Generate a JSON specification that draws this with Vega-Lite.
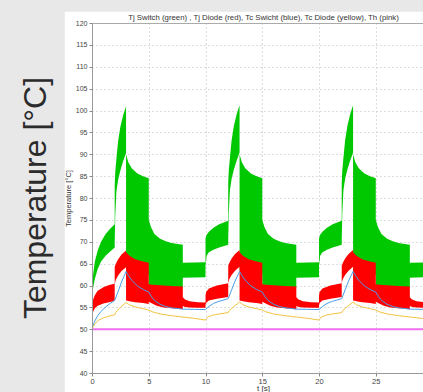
{
  "$schema": "https://vega.github.io/schema/vega-lite/v6.json",
  "width": 331,
  "height": 350,
  "autosize": {"type": "none"},
  "padding": {"left": 92, "top": 23, "right": 0, "bottom": 19},
  "background": "#e8e8e8",
  "config": {
    "view": {"fill": "white", "stroke": null},
    "font": "Liberation Sans"
  },
  "title": {
    "text": "Temperature [°C]",
    "orient": "left",
    "anchor": "middle",
    "fontSize": 32,
    "fontWeight": "normal",
    "color": "#2b2b2b",
    "offset": 11
  },
  "resolve": {"axis": {"x": "independent", "y": "independent"}},
  "datasets": {
    "blank": [{}],
    "green": [
      {"t":0,"lo":57,"hi":57.5},{"t":0.05,"lo":58.5,"hi":60.5},{"t":0.1,"lo":59.5,"hi":62.5},{"t":0.25,"lo":61.5,"hi":65.5},{"t":0.5,"lo":63.8,"hi":68},{"t":0.8,"lo":65.5,"hi":70},{"t":1.2,"lo":66.8,"hi":71.8},{"t":1.6,"lo":67.8,"hi":73},{"t":2.0,"lo":68.7,"hi":74},
      {"t":2.001,"lo":70,"hi":83},{"t":2.05,"lo":76,"hi":86},{"t":2.15,"lo":81.5,"hi":89},{"t":2.3,"lo":84.2,"hi":93},{"t":2.5,"lo":86.3,"hi":96.3},{"t":2.75,"lo":88.5,"hi":99},{"t":3.0,"lo":90.3,"hi":101},
      {"t":3.001,"lo":63.5,"hi":90},{"t":3.2,"lo":63.2,"hi":88.2},{"t":3.5,"lo":63,"hi":86.8},{"t":4.0,"lo":62.8,"hi":85.6},{"t":4.5,"lo":62.6,"hi":85},{"t":5.0,"lo":62.5,"hi":84.5},
      {"t":5.001,"lo":59.5,"hi":75},{"t":5.2,"lo":59.5,"hi":73.3},{"t":5.5,"lo":59.5,"hi":71.8},{"t":6.0,"lo":59.5,"hi":70.7},{"t":6.5,"lo":59.5,"hi":70.1},{"t":7.0,"lo":59.5,"hi":69.7},{"t":8.0,"lo":59.5,"hi":69.3},
      {"t":8.001,"lo":61.8,"hi":65.2},{"t":10.0,"lo":61.9,"hi":65.3},
      {"t":10.001,"lo":64.7,"hi":70.8},{"t":10.1,"lo":66.8,"hi":71.6},{"t":10.3,"lo":67.6,"hi":72.3},{"t":10.7,"lo":68.2,"hi":73.2},{"t":11.2,"lo":68.7,"hi":74},{"t":12.0,"lo":69.3,"hi":74.8},
      {"t":12.001,"lo":70.5,"hi":83.5},{"t":12.05,"lo":76.5,"hi":86.3},{"t":12.15,"lo":81.8,"hi":89.2},{"t":12.3,"lo":84.4,"hi":93.2},{"t":12.5,"lo":86.5,"hi":96.5},{"t":12.75,"lo":88.6,"hi":99.2},{"t":13.0,"lo":90.4,"hi":101.2},
      {"t":13.001,"lo":63.5,"hi":90},{"t":13.2,"lo":63.2,"hi":88.2},{"t":13.5,"lo":63,"hi":86.8},{"t":14.0,"lo":62.8,"hi":85.6},{"t":14.5,"lo":62.6,"hi":85},{"t":15.0,"lo":62.5,"hi":84.5},
      {"t":15.001,"lo":59.5,"hi":75},{"t":15.2,"lo":59.5,"hi":73.3},{"t":15.5,"lo":59.5,"hi":71.8},{"t":16.0,"lo":59.5,"hi":70.7},{"t":16.5,"lo":59.5,"hi":70.1},{"t":17.0,"lo":59.5,"hi":69.7},{"t":18.0,"lo":59.5,"hi":69.3},
      {"t":18.001,"lo":61.8,"hi":65.2},{"t":20.0,"lo":61.9,"hi":65.3},
      {"t":20.001,"lo":64.7,"hi":70.8},{"t":20.1,"lo":66.8,"hi":71.6},{"t":20.3,"lo":67.6,"hi":72.3},{"t":20.7,"lo":68.2,"hi":73.2},{"t":21.2,"lo":68.7,"hi":74},{"t":22.0,"lo":69.3,"hi":74.8},
      {"t":22.001,"lo":70.5,"hi":83.5},{"t":22.05,"lo":76.5,"hi":86.3},{"t":22.15,"lo":81.8,"hi":89.2},{"t":22.3,"lo":84.4,"hi":93.2},{"t":22.5,"lo":86.5,"hi":96.5},{"t":22.75,"lo":88.6,"hi":99.2},{"t":23.0,"lo":90.4,"hi":101.2},
      {"t":23.001,"lo":63.5,"hi":90},{"t":23.2,"lo":63.2,"hi":88.2},{"t":23.5,"lo":63,"hi":86.8},{"t":24.0,"lo":62.8,"hi":85.6},{"t":24.5,"lo":62.6,"hi":85},{"t":25.0,"lo":62.5,"hi":84.5},
      {"t":25.001,"lo":59.5,"hi":75},{"t":25.2,"lo":59.5,"hi":73.3},{"t":25.5,"lo":59.5,"hi":71.8},{"t":26.0,"lo":59.5,"hi":70.7},{"t":26.5,"lo":59.5,"hi":70.1},{"t":27.0,"lo":59.5,"hi":69.7},{"t":28.0,"lo":59.5,"hi":69.3},
      {"t":28.001,"lo":61.8,"hi":65.2},{"t":30.0,"lo":61.9,"hi":65.3}
    ],
    "red": [
      {"t":0,"lo":51.5,"hi":52.5},{"t":0.05,"lo":53,"hi":55.5},{"t":0.1,"lo":54,"hi":56.8},{"t":0.25,"lo":54.8,"hi":57.8},{"t":0.5,"lo":55.4,"hi":58.8},{"t":1.0,"lo":55.9,"hi":59.6},{"t":1.5,"lo":56.2,"hi":60.1},{"t":2.0,"lo":56.5,"hi":60.4},
      {"t":2.001,"lo":60.3,"hi":64.3},{"t":2.1,"lo":61.3,"hi":65},{"t":2.3,"lo":62.3,"hi":66},{"t":2.6,"lo":63.3,"hi":67.1},{"t":3.0,"lo":64.2,"hi":68},
      {"t":3.001,"lo":56.6,"hi":67.6},{"t":3.3,"lo":56.4,"hi":66.8},{"t":3.8,"lo":56.2,"hi":66},{"t":4.5,"lo":56,"hi":65.5},{"t":5.0,"lo":55.8,"hi":65.2},
      {"t":5.001,"lo":56.3,"hi":60.3},{"t":5.3,"lo":55.9,"hi":60.2},{"t":5.7,"lo":55.4,"hi":60.1},{"t":6.3,"lo":55,"hi":60},{"t":7.0,"lo":54.8,"hi":59.9},{"t":8.0,"lo":54.6,"hi":59.8},
      {"t":8.001,"lo":55.3,"hi":57.3},{"t":8.2,"lo":55.1,"hi":56.8},{"t":8.6,"lo":55,"hi":56.4},{"t":9.3,"lo":54.9,"hi":56.2},{"t":10.0,"lo":54.9,"hi":56.1},
      {"t":10.001,"lo":55.6,"hi":57.8},{"t":10.05,"lo":56,"hi":58.5},{"t":10.3,"lo":56.6,"hi":59.3},{"t":11.0,"lo":57,"hi":60},{"t":12.0,"lo":57.4,"hi":60.5},
      {"t":12.001,"lo":60.6,"hi":64.5},{"t":12.1,"lo":61.5,"hi":65.2},{"t":12.3,"lo":62.4,"hi":66.2},{"t":12.6,"lo":63.4,"hi":67.2},{"t":13.0,"lo":64.3,"hi":68.1},
      {"t":13.001,"lo":56.6,"hi":67.6},{"t":13.3,"lo":56.4,"hi":66.8},{"t":13.8,"lo":56.2,"hi":66},{"t":14.5,"lo":56,"hi":65.5},{"t":15.0,"lo":55.8,"hi":65.2},
      {"t":15.001,"lo":56.3,"hi":60.3},{"t":15.3,"lo":55.9,"hi":60.2},{"t":15.7,"lo":55.4,"hi":60.1},{"t":16.3,"lo":55,"hi":60},{"t":17.0,"lo":54.8,"hi":59.9},{"t":18.0,"lo":54.6,"hi":59.8},
      {"t":18.001,"lo":55.3,"hi":57.3},{"t":18.2,"lo":55.1,"hi":56.8},{"t":18.6,"lo":55,"hi":56.4},{"t":19.3,"lo":54.9,"hi":56.2},{"t":20.0,"lo":54.9,"hi":56.1},
      {"t":20.001,"lo":55.6,"hi":57.8},{"t":20.05,"lo":56,"hi":58.5},{"t":20.3,"lo":56.6,"hi":59.3},{"t":21.0,"lo":57,"hi":60},{"t":22.0,"lo":57.4,"hi":60.5},
      {"t":22.001,"lo":60.6,"hi":64.5},{"t":22.1,"lo":61.5,"hi":65.2},{"t":22.3,"lo":62.4,"hi":66.2},{"t":22.6,"lo":63.4,"hi":67.2},{"t":23.0,"lo":64.3,"hi":68.1},
      {"t":23.001,"lo":56.6,"hi":67.6},{"t":23.3,"lo":56.4,"hi":66.8},{"t":23.8,"lo":56.2,"hi":66},{"t":24.5,"lo":56,"hi":65.5},{"t":25.0,"lo":55.8,"hi":65.2},
      {"t":25.001,"lo":56.3,"hi":60.3},{"t":25.3,"lo":55.9,"hi":60.2},{"t":25.7,"lo":55.4,"hi":60.1},{"t":26.3,"lo":55,"hi":60},{"t":27.0,"lo":54.8,"hi":59.9},{"t":28.0,"lo":54.6,"hi":59.8},
      {"t":28.001,"lo":55.3,"hi":57.3},{"t":28.2,"lo":55.1,"hi":56.8},{"t":28.6,"lo":55,"hi":56.4},{"t":29.3,"lo":54.9,"hi":56.2},{"t":30.0,"lo":54.9,"hi":56.1}
    ],
    "blue": [
      {"t":0,"v":50.1},{"t":0.1,"v":50.9},{"t":0.25,"v":51.9},{"t":0.5,"v":53.1},{"t":0.8,"v":54.1},{"t":1.2,"v":55.1},{"t":1.6,"v":55.9},{"t":2.0,"v":56.6},{"t":2.3,"v":58.6},{"t":2.6,"v":60.8},{"t":3.0,"v":63.2},
      {"t":3.2,"v":62.3},{"t":3.5,"v":61.2},{"t":4.0,"v":59.9},{"t":4.5,"v":59.1},{"t":5.0,"v":58.5},{"t":5.2,"v":57.6},{"t":5.5,"v":56.6},{"t":6.0,"v":55.7},{"t":6.5,"v":55.2},{"t":7.0,"v":54.9},{"t":8.0,"v":54.6},{"t":9.0,"v":54.55},{"t":10.0,"v":54.5},
      {"t":10.3,"v":55.2},{"t":10.7,"v":55.9},{"t":11.2,"v":56.4},{"t":12.0,"v":57.0},{"t":12.3,"v":59},{"t":12.6,"v":61},{"t":13.0,"v":63.2},
      {"t":13.2,"v":62.3},{"t":13.5,"v":61.2},{"t":14.0,"v":59.9},{"t":14.5,"v":59.1},{"t":15.0,"v":58.5},{"t":15.2,"v":57.6},{"t":15.5,"v":56.6},{"t":16.0,"v":55.7},{"t":16.5,"v":55.2},{"t":17.0,"v":54.9},{"t":18.0,"v":54.6},{"t":19.0,"v":54.55},{"t":20.0,"v":54.5},
      {"t":20.3,"v":55.2},{"t":20.7,"v":55.9},{"t":21.2,"v":56.4},{"t":22.0,"v":57.0},{"t":22.3,"v":59},{"t":22.6,"v":61},{"t":23.0,"v":63.2},
      {"t":23.2,"v":62.3},{"t":23.5,"v":61.2},{"t":24.0,"v":59.9},{"t":24.5,"v":59.1},{"t":25.0,"v":58.5},{"t":25.2,"v":57.6},{"t":25.5,"v":56.6},{"t":26.0,"v":55.7},{"t":26.5,"v":55.2},{"t":27.0,"v":54.9},{"t":28.0,"v":54.6},{"t":29.0,"v":54.55},{"t":30.0,"v":54.5}
    ],
    "yellow": [
      {"t":0,"v":50},{"t":0.1,"v":50.6},{"t":0.3,"v":51.4},{"t":0.6,"v":52.1},{"t":1.0,"v":52.6},{"t":1.5,"v":53},{"t":2.0,"v":53.3},{"t":2.1,"v":53.9},{"t":2.5,"v":55},{"t":3.0,"v":56.1},
      {"t":3.3,"v":55.6},{"t":3.8,"v":55.1},{"t":4.5,"v":54.7},{"t":5.0,"v":54.4},{"t":5.3,"v":54},{"t":6.0,"v":53.5},{"t":7.0,"v":53.1},{"t":8.0,"v":52.8},{"t":9.0,"v":52.5},{"t":10.0,"v":52.1},
      {"t":10.2,"v":52.8},{"t":10.6,"v":53.2},{"t":11.2,"v":53.5},{"t":12.0,"v":53.8},{"t":12.1,"v":54.3},{"t":12.5,"v":55.2},{"t":13.0,"v":56.2},
      {"t":13.3,"v":55.6},{"t":13.8,"v":55.1},{"t":14.5,"v":54.7},{"t":15.0,"v":54.4},{"t":15.3,"v":54},{"t":16.0,"v":53.5},{"t":17.0,"v":53.1},{"t":18.0,"v":52.8},{"t":19.0,"v":52.5},{"t":20.0,"v":52.1},
      {"t":20.2,"v":52.8},{"t":20.6,"v":53.2},{"t":21.2,"v":53.5},{"t":22.0,"v":53.8},{"t":22.1,"v":54.3},{"t":22.5,"v":55.2},{"t":23.0,"v":56.2},
      {"t":23.3,"v":55.6},{"t":23.8,"v":55.1},{"t":24.5,"v":54.7},{"t":25.0,"v":54.4},{"t":25.3,"v":54},{"t":26.0,"v":53.5},{"t":27.0,"v":53.1},{"t":28.0,"v":52.8},{"t":29.0,"v":52.5},{"t":30.0,"v":52.1}
    ],
    "pink": [{"t":0,"v":50},{"t":30,"v":50}]
  },
  "layer": [
    {
      "data": {"name": "blank"},
      "mark": {"type": "rect", "color": "white"},
      "encoding": {
        "x": {"datum": -2.4, "type": "quantitative", "scale": {"domain": [0, 29.16], "nice": false, "zero": false}, "axis": null},
        "x2": {"datum": 0},
        "y": {"datum": 35.5, "type": "quantitative", "scale": {"domain": [40, 120], "nice": false, "zero": false}, "axis": null},
        "y2": {"datum": 122.6}
      }
    },
    {
      "data": {"name": "blank"},
      "mark": {"type": "rect", "color": "white"},
      "encoding": {
        "x": {"datum": 0, "type": "quantitative", "scale": {"domain": [0, 29.16], "nice": false, "zero": false}, "axis": null},
        "x2": {"datum": 29.16},
        "y": {"datum": 120, "type": "quantitative", "scale": {"domain": [40, 120], "nice": false, "zero": false}, "axis": null},
        "y2": {"datum": 122.6}
      }
    },
    {
      "data": {"name": "blank"},
      "mark": {"type": "rect", "color": "white"},
      "encoding": {
        "x": {"datum": 0, "type": "quantitative", "scale": {"domain": [0, 29.16], "nice": false, "zero": false}, "axis": null},
        "x2": {"datum": 29.16},
        "y": {"datum": 35.5, "type": "quantitative", "scale": {"domain": [40, 120], "nice": false, "zero": false}, "axis": null},
        "y2": {"datum": 40}
      }
    },
    {
      "data": {"name": "green"},
      "mark": {"type": "area", "color": "#00c800", "clip": true, "interpolate": "linear"},
      "encoding": {
        "x": {"field": "t", "type": "quantitative", "scale": {"domain": [0, 29.16], "nice": false, "zero": false},
          "axis": {"title": "t [s]", "tickCount": 6, "labelFlush": false, "labelFontSize": 7.5, "labelColor": "#444444", "labelPadding": 1,
            "titleFontSize": 8, "titleFontWeight": "normal", "titleColor": "#333333", "titlePadding": 0, "titleX": 171,
            "tickSize": 3, "tickColor": "#888888", "domainColor": "#999999",
            "grid": false, "zindex": 1}},
        "y": {"field": "lo", "type": "quantitative", "scale": {"domain": [40, 120], "nice": false, "zero": false},
          "axis": {"title": "Temperature [°C]", "tickCount": 16,
            "labelOverlap": false, "labelFontSize": 7, "labelColor": "#444444", "labelPadding": 2,
            "titleFontSize": 7.5, "titleFontWeight": "normal", "titleColor": "#333333", "titlePadding": 3,
            "tickSize": 3, "tickColor": "#888888", "domainColor": "#999999",
            "grid": false, "zindex": 1}},
        "y2": {"field": "hi"}
      }
    },
    {
      "data": {"name": "red"},
      "mark": {"type": "area", "color": "#ff0000", "clip": true, "interpolate": "linear"},
      "encoding": {
        "x": {"field": "t", "type": "quantitative", "scale": {"domain": [0, 29.16], "nice": false, "zero": false},
          "axis": {"orient": "bottom", "tickCount": 6, "grid": true, "gridColor": "#bbbbbb", "gridDash": [1, 3], "labels": false, "ticks": false, "domain": false, "title": null, "zindex": 0}},
        "y": {"field": "lo", "type": "quantitative", "scale": {"domain": [40, 120], "nice": false, "zero": false},
          "axis": {"orient": "left", "tickCount": 16, "grid": true, "gridColor": "#bbbbbb", "gridDash": [1, 3], "labels": false, "ticks": false, "domain": false, "title": null, "zindex": 0}},
        "y2": {"field": "hi"}
      }
    },
    {
      "data": {"name": "blue"},
      "mark": {"type": "line", "color": "#4a9ee6", "strokeWidth": 1, "clip": true},
      "encoding": {
        "x": {"field": "t", "type": "quantitative", "scale": {"domain": [0, 29.16], "nice": false, "zero": false}, "axis": null},
        "y": {"field": "v", "type": "quantitative", "scale": {"domain": [40, 120], "nice": false, "zero": false}, "axis": null}
      }
    },
    {
      "data": {"name": "yellow"},
      "mark": {"type": "line", "color": "#f2c440", "strokeWidth": 1, "clip": true},
      "encoding": {
        "x": {"field": "t", "type": "quantitative", "scale": {"domain": [0, 29.16], "nice": false, "zero": false}, "axis": null},
        "y": {"field": "v", "type": "quantitative", "scale": {"domain": [40, 120], "nice": false, "zero": false}, "axis": null}
      }
    },
    {
      "data": {"name": "pink"},
      "mark": {"type": "line", "color": "#f06ef0", "strokeWidth": 2, "clip": true},
      "encoding": {
        "x": {"field": "t", "type": "quantitative", "scale": {"domain": [0, 29.16], "nice": false, "zero": false},
          "axis": {"orient": "top", "labels": false, "ticks": false, "grid": false, "domain": true, "domainColor": "#aaaaaa",
            "title": "Tj Switch (green) , Tj Diode (red), Tc Swicht (blue), Tc Diode (yellow), Th (pink)",
            "titleFontSize": 7.8, "titleFontWeight": "normal", "titleColor": "#333333", "titlePadding": 2, "titleX": 171, "zindex": 1}},
        "y": {"field": "v", "type": "quantitative", "scale": {"domain": [40, 120], "nice": false, "zero": false}, "axis": null}
      }
    }
  ]
}
